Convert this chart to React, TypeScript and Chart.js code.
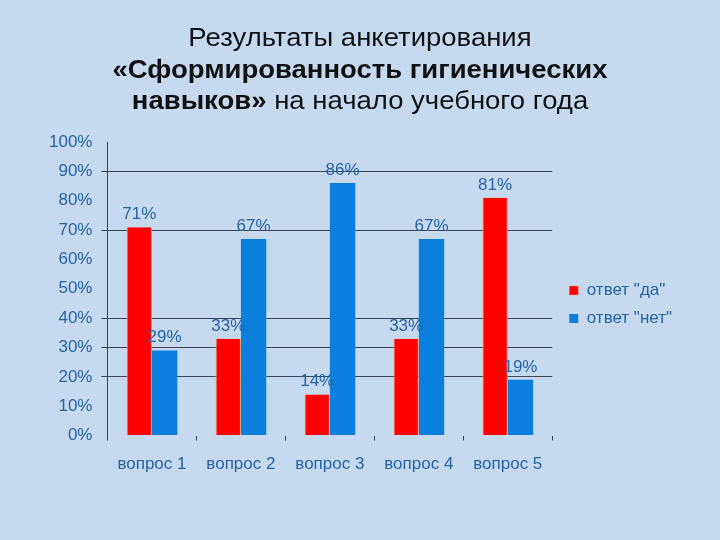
import React, { useEffect, useRef } from "react";
import { Chart, registerables } from "chart.js";

Chart.register(...registerables);

const categories = ["вопрос 1", "вопрос 2", "вопрос 3", "вопрос 4", "вопрос 5"];
const seriesYes = [71, 33, 14, 33, 81];
const seriesNo = [29, 67, 86, 67, 19];
const seriesNames = ['ответ "да"', 'ответ "нет"'];
const gridLevels = [20, 30, 40, 70, 90];

const LABEL_COLOR = "#2565a6";
const BG = "#c6d9ef";
const FONT = "'Liberation Sans', Arial, sans-serif";

const valueLabels = {
  id: "valueLabels",
  afterDatasetsDraw(chart: any) {
    const ctx = chart.ctx;
    ctx.save();
    ctx.font = "17px " + FONT;
    ctx.fillStyle = LABEL_COLOR;
    ctx.textAlign = "center";
    ctx.textBaseline = "alphabetic";
    chart.data.datasets.forEach((ds: any, i: number) => {
      const meta = chart.getDatasetMeta(i);
      meta.data.forEach((bar: any, j: number) => {
        ctx.fillText(ds.data[j] + "%", bar.x, bar.y - 8);
      });
    });
    ctx.restore();
  },
};

// nudges the legend box slightly from where the layout puts it
const legendNudge = {
  id: "legendNudge",
  afterLayout(chart: any) {
    const l = chart.legend;
    if (!l) return;
    l.left += 6;
    l.right += 6;
    l.top -= 11;
    l.bottom -= 11;
  },
};

export default function App() {
  const ref = useRef<HTMLCanvasElement>(null);
  useEffect(() => {
    const chart = new Chart(ref.current!, {
      type: "bar",
      data: {
        labels: categories,
        datasets: [
          {
            label: seriesNames[0],
            data: seriesYes,
            backgroundColor: "#ff0000",
            borderColor: "#f8a070",
            borderWidth: { left: 1, right: 1, top: 0, bottom: 0 } as any,
            categoryPercentage: 0.57,
            barPercentage: 1,
          },
          {
            label: seriesNames[1],
            data: seriesNo,
            backgroundColor: "#0a7fde",
            borderWidth: 0,
            categoryPercentage: 0.57,
            barPercentage: 1,
          },
        ],
      },
      options: {
        responsive: false,
        animation: false,
        layout: { padding: { top: 142, right: 44, bottom: 51, left: 40 } },
        plugins: {
          title: { display: false },
          tooltip: { enabled: false },
          legend: {
            position: "right",
            align: "center",
            labels: {
              boxWidth: 9,
              boxHeight: 9,
              padding: 11,
              color: LABEL_COLOR,
              font: { size: 17, family: FONT },
            },
          },
        },
        scales: {
          x: {
            grid: {
              display: true,
              drawOnChartArea: false,
              drawTicks: true,
              tickLength: 5,
              offset: true,
              color: "#3a4658",
            },
            border: { display: false },
            ticks: {
              color: LABEL_COLOR,
              padding: 14,
              font: { size: 17, family: FONT },
            },
          },
          y: {
            min: 0,
            max: 100,
            ticks: {
              stepSize: 10,
              color: LABEL_COLOR,
              padding: 9,
              callback: (v: any) => v + "%",
              font: { size: 17, family: FONT },
            },
            grid: {
              tickLength: 6,
              color: (c: any) =>
                c.tick && gridLevels.includes(c.tick.value) ? "#3a4658" : "rgba(0,0,0,0)",
            },
            border: { display: true, color: "#3a4658", width: 1 },
          },
        },
      },
      plugins: [valueLabels, legendNudge],
    });
    return () => chart.destroy();
  }, []);

  return (
    <div style={{ position: "absolute", left: 0, top: 0, width: 720, height: 540, background: BG, overflow: "hidden" }}>
      <canvas ref={ref} width={720} height={540} style={{ position: "absolute", left: 0, top: 0 }} />
      <div
        style={{
          position: "absolute",
          left: 0,
          top: 22,
          width: 720,
          textAlign: "center",
          fontFamily: FONT,
          fontSize: 25,
          lineHeight: "31.5px",
          color: "#111",
          transform: "scaleX(1.1)",
          transformOrigin: "360px 0",
          whiteSpace: "nowrap",
        }}
      >
        <div>Результаты анкетирования</div>
        <div style={{ fontWeight: "bold" }}>«Сформированность гигиенических</div>
        <div>
          <span style={{ fontWeight: "bold" }}>навыков»</span> на начало учебного года
        </div>
      </div>
    </div>
  );
}
